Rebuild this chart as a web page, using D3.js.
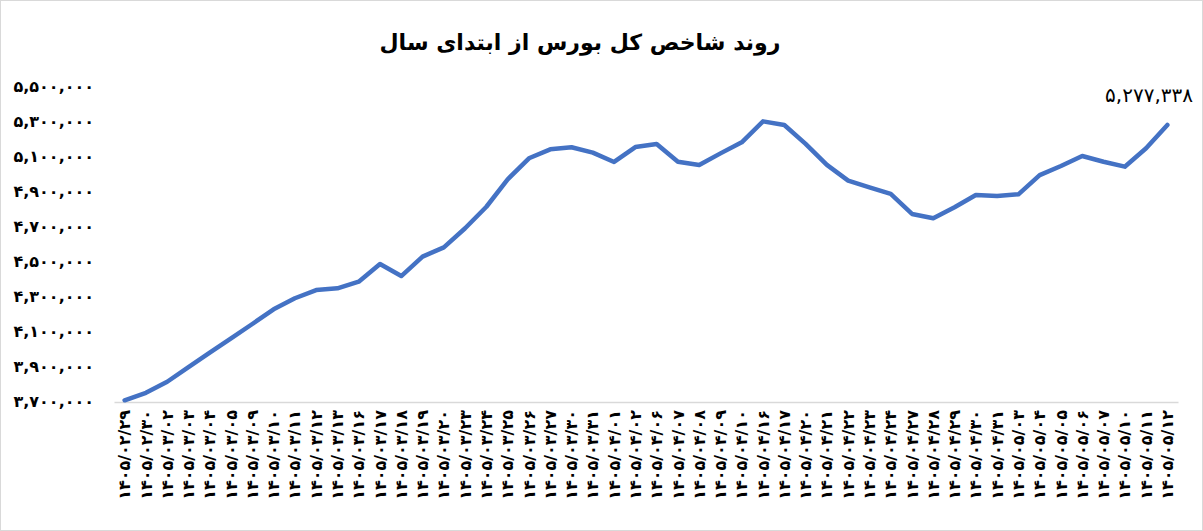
<!DOCTYPE html>
<html>
<head>
<meta charset="utf-8">
<script src="https://cdn.jsdelivr.net/npm/d3@7"></script>
<style>
  body { margin: 0; background: #fff; }
  text { font-family: "DejaVu Sans", sans-serif; }
</style>
</head>
<body>
<script>
// تاریخ‌ها (روزهای معاملاتی)
const dates = [
  "1405/02/29", "1405/02/30", "1405/03/02", "1405/03/03", "1405/03/04",
  "1405/03/05", "1405/03/09", "1405/03/10", "1405/03/11", "1405/03/12",
  "1405/03/13", "1405/03/16", "1405/03/17", "1405/03/18", "1405/03/19",
  "1405/03/20", "1405/03/23", "1405/03/24", "1405/03/25", "1405/03/26",
  "1405/03/27", "1405/03/30", "1405/03/31", "1405/04/01", "1405/04/02",
  "1405/04/06", "1405/04/07", "1405/04/08", "1405/04/09", "1405/04/10",
  "1405/04/16", "1405/04/17", "1405/04/20", "1405/04/21", "1405/04/22",
  "1405/04/23", "1405/04/24", "1405/04/27", "1405/04/28", "1405/04/29",
  "1405/04/30", "1405/04/31", "1405/05/03", "1405/05/04", "1405/05/05",
  "1405/05/06", "1405/05/07", "1405/05/10", "1405/05/11", "1405/05/12"
]

// شاخص کل
const index = [
  3704000, 3747000, 3810000, 3893000, 3976000,
  4058000, 4140000, 4224000, 4287000, 4334000,
  4344000, 4382000, 4483000, 4414000, 4525000,
  4578000, 4687000, 4810000, 4967000, 5087000,
  5138000, 5150000, 5119000, 5066000, 5151000,
  5169000, 5067000, 5049000, 5115000, 5178000,
  5298000, 5277000, 5169000, 5049000, 4959000,
  4921000, 4883000, 4769000, 4744000, 4807000,
  4877000, 4871000, 4881000, 4991000, 5043000,
  5100000, 5067000, 5039000, 5144000, 5277338
]

const yTicks = [3700000, 3900000, 4100000, 4300000, 4500000, 4700000, 4900000, 5100000, 5300000, 5500000]

const title = "روند شاخص کل بورس از ابتدای سال"

// ارقام فارسی
const fa = s => String(s).replace(/\d/g, d => "۰۱۲۳۴۵۶۷۸۹"[d])
const fmt = d3.format(",")

const W = 1203, H = 531

const svg = d3.select("body").append("svg")
    .attr("width", W)
    .attr("height", H)

svg.append("rect")
    .attr("x", 0.5).attr("y", 0.5)
    .attr("width", W - 1).attr("height", H - 1)
    .attr("fill", "#fff")
    .attr("stroke", "#d9d9d9")

const x = d3.scaleBand()
    .domain(dates)
    .range([114, 1178])

const y = d3.scaleLinear()
    .domain([3700000, 5500000])
    .range([401, 86])

// عنوان
svg.append("text")
    .attr("x", 580)
    .attr("y", 50)
    .attr("text-anchor", "middle")
    .attr("font-size", 22)
    .attr("font-weight", "bold")
    .attr("fill", "#000")
    .text(title)

// محور عمودی
const yAxis = svg.append("g")
    .attr("transform", "translate(94,0)")
    .call(d3.axisLeft(y).tickValues(yTicks).tickSize(0).tickPadding(0)
        .tickFormat(d => fa(fmt(d))))
yAxis.select(".domain").remove()
yAxis.selectAll("text")
    .attr("font-size", 16)
    .attr("font-weight", "bold")
    .attr("fill", "#000")

// محور افقی
const xAxis = svg.append("g")
    .attr("transform", "translate(0,402)")
    .call(d3.axisBottom(x).tickSize(0).tickFormat(d => fa(d)))
xAxis.select(".domain")
    .attr("stroke", "#d9d9d9")
    .attr("stroke-width", 1.5)
xAxis.selectAll("text")
    .attr("font-size", 16)
    .attr("font-weight", "bold")
    .attr("fill", "#000")
    .attr("text-anchor", "end")
    .attr("dy", "0.35em")
    .attr("transform", "translate(0,8) rotate(-90)")
    .attr("y", 0)
    .attr("x", 0)

// خط شاخص
const line = d3.line()
    .x((d, i) => x(dates[i]) + x.bandwidth() / 2)
    .y(d => y(d))

svg.append("path")
    .datum(index)
    .attr("d", line)
    .attr("fill", "none")
    .attr("stroke", "#4472C4")
    .attr("stroke-width", 4.5)
    .attr("stroke-linejoin", "round")
    .attr("stroke-linecap", "round")

// برچسب آخرین مقدار
const last = index.length - 1
svg.append("text")
    .attr("x", 1193)
    .attr("y", y(index[last]) - 23)
    .attr("text-anchor", "end")
    .attr("font-size", 20)
    .attr("fill", "#000")
    .text(fa(fmt(index[last])))
</script>
</body>
</html>
